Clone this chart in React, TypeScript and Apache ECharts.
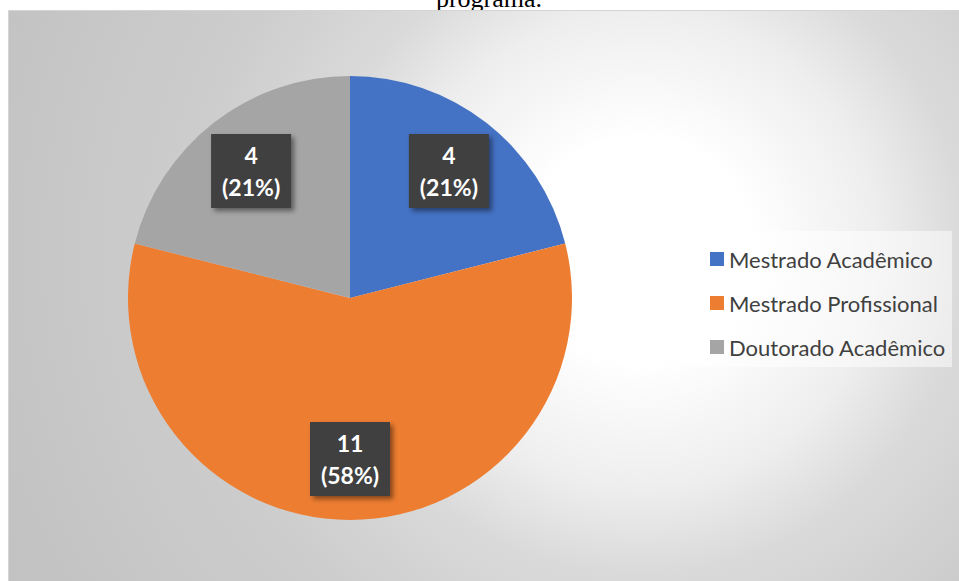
import React, { useEffect, useRef } from "react";
import * as echarts from "echarts";

const titleText = "programa.";
const categories = ["Mestrado Acadêmico", "Mestrado Profissional", "Doutorado Acadêmico"];
const values = [4, 11, 4];

const palette = ["#4472C4", "#ED7D31", "#A5A5A5"];

export default function App() {
  const ref = useRef<HTMLDivElement>(null);
  useEffect(() => {
    if (!ref.current) return;
    const chart = echarts.init(ref.current, undefined, { renderer: "svg" });
    const data = categories.map((name, i) => ({
      name,
      value: values[i],
      itemStyle: { color: palette[i] },
    }));
    chart.setOption({
      animation: false,
      graphic: [
        {
          type: "text",
          x: 489,
          y: -2,
          z: -30,
          style: {
            text: titleText,
            fill: "#000",
            font: '26px "Liberation Serif"',
            align: "center",
            verticalAlign: "middle",
          },
        },
        {
          type: "rect",
          z: -20,
          shape: { x: 8.5, y: 10.5, width: 960, height: 580 },
          style: {
            fill: {
              type: "radial",
              x: 640,
              y: 250,
              r: 700,
              global: true,
              colorStops: [
                { offset: 0, color: "#ffffff" },
                { offset: 0.16, color: "#ffffff" },
                { offset: 0.34, color: "#eeeeee" },
                { offset: 0.46, color: "#dadada" },
                { offset: 0.64, color: "#cdcdcd" },
                { offset: 1, color: "#c2c2c2" },
              ],
            },
            stroke: "#d4d4d4",
            lineWidth: 1,
          },
        },
        {
          type: "rect",
          z: -10,
          shape: { x: 692, y: 231, width: 260, height: 136 },
          style: { fill: "rgba(255,255,255,0.5)" },
        },
      ],
      legend: {
        orient: "vertical",
        left: 705,
        top: 243,
        itemWidth: 14,
        itemHeight: 14,
        itemGap: 22,
        icon: "rect",
        selectedMode: false,
        data: categories.map((name, i) => ({ name, itemStyle: { color: palette[i] } })),
        textStyle: { fontFamily: "Lato", fontSize: 22, color: "#404040", padding: [0, 0, 0, 0] },
      },
      series: [
        {
          type: "pie",
          center: [350, 298],
          radius: 222,
          startAngle: 90,
          clockwise: true,
          silent: true,
          label: { show: false },
          labelLine: { show: false },
          data,
        },
        {
          type: "pie",
          center: [350, 298],
          radius: [94, 222],
          startAngle: 90,
          clockwise: true,
          silent: true,
          z: 5,
          percentPrecision: 0,
          itemStyle: { color: "rgba(0,0,0,0)" },
          labelLine: { show: false },
          label: {
            show: true,
            position: "inside",
            formatter: "{c}\n({d}%)",
            color: "#ffffff",
            fontFamily: "Lato",
            fontWeight: "bold",
            fontSize: 23,
            lineHeight: 32,
            align: "center",
            width: 60,
            padding: [5, 10, 5, 10],
            backgroundColor: "#3f3f3f",
            shadowColor: "rgba(0,0,0,0.45)",
            shadowBlur: 5,
            shadowOffsetX: 3,
            shadowOffsetY: 3,
          },
          data: categories.map((name, i) => ({
            name,
            value: values[i],
            itemStyle: { color: "rgba(0,0,0,0)" },
          })),
        },
      ],
    });
    return () => chart.dispose();
  }, []);
  return (
    <div
      ref={ref}
      style={{ position: "absolute", left: 0, top: 0, width: 959, height: 581 }}
    />
  );
}
